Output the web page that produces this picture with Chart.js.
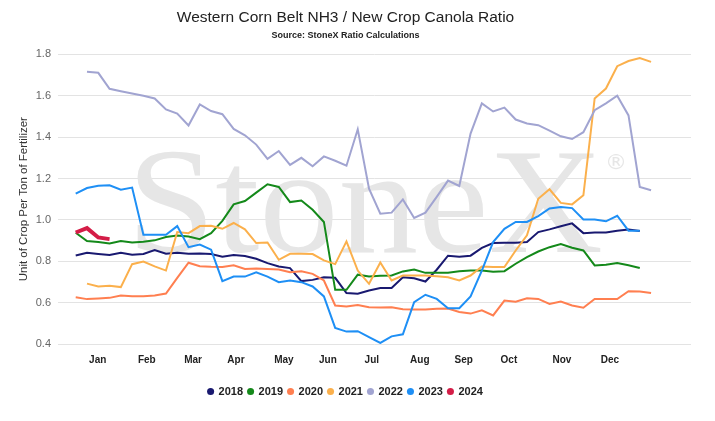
<!DOCTYPE html>
<html>
<head>
<meta charset="utf-8">
<script src="https://cdn.jsdelivr.net/npm/chart.js@4.4.0/dist/chart.umd.min.js"></script>
<style>
  html, body { margin: 0; padding: 0; background: #fff; }
  #wrap { width: 715px; height: 421px; }
</style>
</head>
<body>
<div id="wrap"><canvas id="c" width="715" height="421"></canvas></div>
<script>
// weekly ratio, index 0 = first week of the year (null = no value yet)
var years = ['2018', '2019', '2020', '2021', '2022', '2023', '2024'];
var colors = ['#191970', '#14891a', '#ff7f50', '#fbb04c', '#a1a4d1', '#1e8ff5', '#d41d47'];

var monthLabels = ['Jan', 'Feb', 'Mar', 'Apr', 'May', 'Jun', 'Jul', 'Aug', 'Sep', 'Oct', 'Nov', 'Dec'];
var monthTicks  = [1.95, 6.3, 10.4, 14.2, 18.45, 22.35, 26.25, 30.5, 34.4, 38.4, 43.1, 47.35];
var yTicks = [0.4, 0.6, 0.8, 1.0, 1.2, 1.4, 1.6, 1.8];

var s2018 = [0.828, 0.841, 0.835, 0.830, 0.841, 0.831, 0.835, 0.854, 0.836, 0.841,
             0.836, 0.838, 0.835, 0.822, 0.830, 0.825, 0.812, 0.791, 0.775, 0.767,
             0.704, 0.710, 0.723, 0.720, 0.646, 0.643, 0.659, 0.671, 0.671, 0.723,
             0.718, 0.702, 0.759, 0.827, 0.822, 0.827, 0.865, 0.888, 0.889, 0.889,
             0.893, 0.941, 0.954, 0.969, 0.983, 0.936, 0.939, 0.939, 0.948, 0.954,
             0.946];
var s2019 = [0.938, 0.898, 0.893, 0.886, 0.898, 0.891, 0.894, 0.901, 0.917, 0.925,
             0.920, 0.907, 0.936, 0.995, 1.075, 1.091, 1.132, 1.172, 1.159, 1.086,
             1.094, 1.049, 0.990, 0.662, 0.662, 0.735, 0.726, 0.730, 0.731, 0.751,
             0.760, 0.744, 0.744, 0.744, 0.752, 0.755, 0.755, 0.749, 0.752, 0.788,
             0.820, 0.847, 0.868, 0.883, 0.865, 0.852, 0.780, 0.783, 0.791, 0.781,
             0.767];
var s2020 = [0.626, 0.617, 0.620, 0.623, 0.634, 0.631, 0.631, 0.634, 0.644, 0.720,
             0.793, 0.776, 0.773, 0.772, 0.781, 0.763, 0.765, 0.762, 0.760, 0.747,
             0.752, 0.739, 0.707, 0.586, 0.581, 0.589, 0.578, 0.576, 0.578, 0.568,
             0.567, 0.567, 0.570, 0.571, 0.555, 0.547, 0.563, 0.538, 0.610, 0.604,
             0.621, 0.618, 0.594, 0.605, 0.586, 0.575, 0.618, 0.617, 0.617, 0.655,
             0.654, 0.646];
var s2021 = [null, 0.692, 0.678, 0.681, 0.675, 0.786, 0.799, 0.775, 0.755, 0.941,
             0.936, 0.970, 0.972, 0.957, 0.985, 0.954, 0.888, 0.891, 0.807, 0.836,
             0.836, 0.835, 0.804, 0.786, 0.896, 0.755, 0.691, 0.794, 0.707, 0.731,
             0.731, 0.731, 0.728, 0.723, 0.707, 0.731, 0.775, 0.772, 0.772, 0.852,
             0.925, 1.102, 1.148, 1.082, 1.075, 1.119, 1.587, 1.635, 1.743, 1.768,
             1.782, 1.764];
var s2022 = [null, 1.716, 1.711, 1.634, 1.622, 1.611, 1.600, 1.587, 1.534, 1.514,
             1.456, 1.558, 1.526, 1.511, 1.440, 1.409, 1.364, 1.295, 1.333, 1.266,
             1.300, 1.259, 1.307, 1.286, 1.262, 1.438, 1.151, 1.030, 1.035, 1.099,
             1.009, 1.035, 1.111, 1.190, 1.164, 1.417, 1.563, 1.524, 1.543, 1.485,
             1.466, 1.458, 1.432, 1.404, 1.391, 1.424, 1.530, 1.563, 1.600, 1.505,
             1.159, 1.143];
var s2023 = [1.127, 1.154, 1.165, 1.167, 1.146, 1.156, 0.928, 0.928, 0.928, 0.970,
             0.868, 0.881, 0.856, 0.704, 0.726, 0.726, 0.747, 0.726, 0.699, 0.707,
             0.699, 0.678, 0.630, 0.478, 0.460, 0.462, 0.433, 0.405, 0.437, 0.447,
             0.602, 0.638, 0.618, 0.573, 0.573, 0.630, 0.755, 0.893, 0.957, 0.990,
             0.990, 1.018, 1.055, 1.062, 1.057, 1.002, 1.002, 0.993, 1.020, 0.948,
             0.948];
var s2024 = [0.939, 0.960, 0.915, 0.907];

var series = [s2018, s2019, s2020, s2021, s2022, s2023, s2024];
var FONT = '"Liberation Sans", Arial, sans-serif';

function toPoints(arr) {
    var pts = [];
    arr.forEach(function (v, i) {
        if (v !== null) pts.push({ x: i, y: v });
    });
    return pts;
}

// faint StoneX logo text behind the lines
var watermark = {
    id: 'watermark',
    beforeDatasetsDraw: function (chart) {
        var ctx = chart.ctx;
        ctx.save();
        ctx.fillStyle = '#e6e6e6';
        ctx.font = '150px "Liberation Serif", serif';
        ctx.textBaseline = 'alphabetic';
        var w = ctx.measureText('StoneX').width;
        ctx.translate(127, 252);
        ctx.scale(476 / w, 1);
        ctx.fillText('StoneX', 0, 0);
        ctx.restore();
        ctx.save();
        ctx.fillStyle = '#e6e6e6';
        ctx.font = '22px "DejaVu Sans", sans-serif';
        ctx.textAlign = 'center';
        ctx.textBaseline = 'middle';
        ctx.fillText('\u00AE', 616, 163);
        ctx.restore();
    }
};

var datasets = years.map(function (y, k) {
    return {
        label: y,
        data: toPoints(series[k]),
        borderColor: colors[k],
        backgroundColor: colors[k],
        borderWidth: y === '2024' ? 4 : 2,
        pointRadius: 0,
        tension: 0,
        fill: false,
        order: 10 - k
    };
});

new Chart(document.getElementById('c'), {
    type: 'line',
    data: { datasets: datasets },
    plugins: [watermark],
    options: {
        responsive: false,
        animation: false,
        devicePixelRatio: 1,
        layout: { padding: { left: 0, right: 24, top: 0, bottom: 14 } },
        plugins: {
            title: {
                display: true,
                text: 'Western Corn Belt NH3 / New Crop Canola Ratio',
                color: '#222',
                font: { family: FONT, size: 15.5, weight: 'normal' },
                padding: { top: 8, bottom: 0 }
            },
            subtitle: {
                display: true,
                text: 'Source: StoneX Ratio Calculations',
                color: '#222',
                font: { family: FONT, size: 9, weight: 'bold' },
                padding: { top: 4, bottom: 13 }
            },
            legend: {
                position: 'bottom',
                labels: {
                    usePointStyle: true,
                    pointStyle: 'circle',
                    boxWidth: 5,
                    boxHeight: 5,
                    padding: 5,
                    color: '#222',
                    font: { family: FONT, size: 11, weight: 'bold' },
                    sort: function (a, b) { return a.datasetIndex - b.datasetIndex; },
                    generateLabels: function (chart) {
                        var items = Chart.defaults.plugins.legend.labels.generateLabels(chart);
                        items.forEach(function (it) { it.lineWidth = 0; });
                        return items;
                    }
                }
            },
            tooltip: { enabled: false }
        },
        scales: {
            x: {
                type: 'linear',
                min: -1.57,
                max: 54.54,
                grid: { display: false },
                border: { display: false },
                afterBuildTicks: function (s) {
                    s.ticks = monthTicks.map(function (v) { return { value: v }; });
                },
                afterFit: function (s) { s.height = 37; },
                ticks: {
                    autoSkip: false,
                    maxRotation: 0,
                    padding: 2,
                    color: '#222',
                    font: { family: FONT, size: 10, weight: 'bold' },
                    callback: function (v, i) { return monthLabels[i]; }
                }
            },
            y: {
                min: 0.4,
                max: 1.8,
                afterBuildTicks: function (s) {
                    s.ticks = yTicks.map(function (v) { return { value: v }; });
                },
                afterFit: function (s) { s.width = 58; },
                grid: { color: '#e3e3e3', drawTicks: false },
                border: { display: false },
                ticks: {
                    padding: 7,
                    color: '#666',
                    font: { family: FONT, size: 11 },
                    callback: function (v) { return v.toFixed(1); }
                },
                title: {
                    display: true,
                    text: 'Unit of Crop Per Ton of Fertilizer',
                    color: '#333',
                    font: { family: FONT, size: 11.5 },
                    padding: { top: 17, bottom: 0 }
                }
            }
        }
    }
});
</script>
</body>
</html>
